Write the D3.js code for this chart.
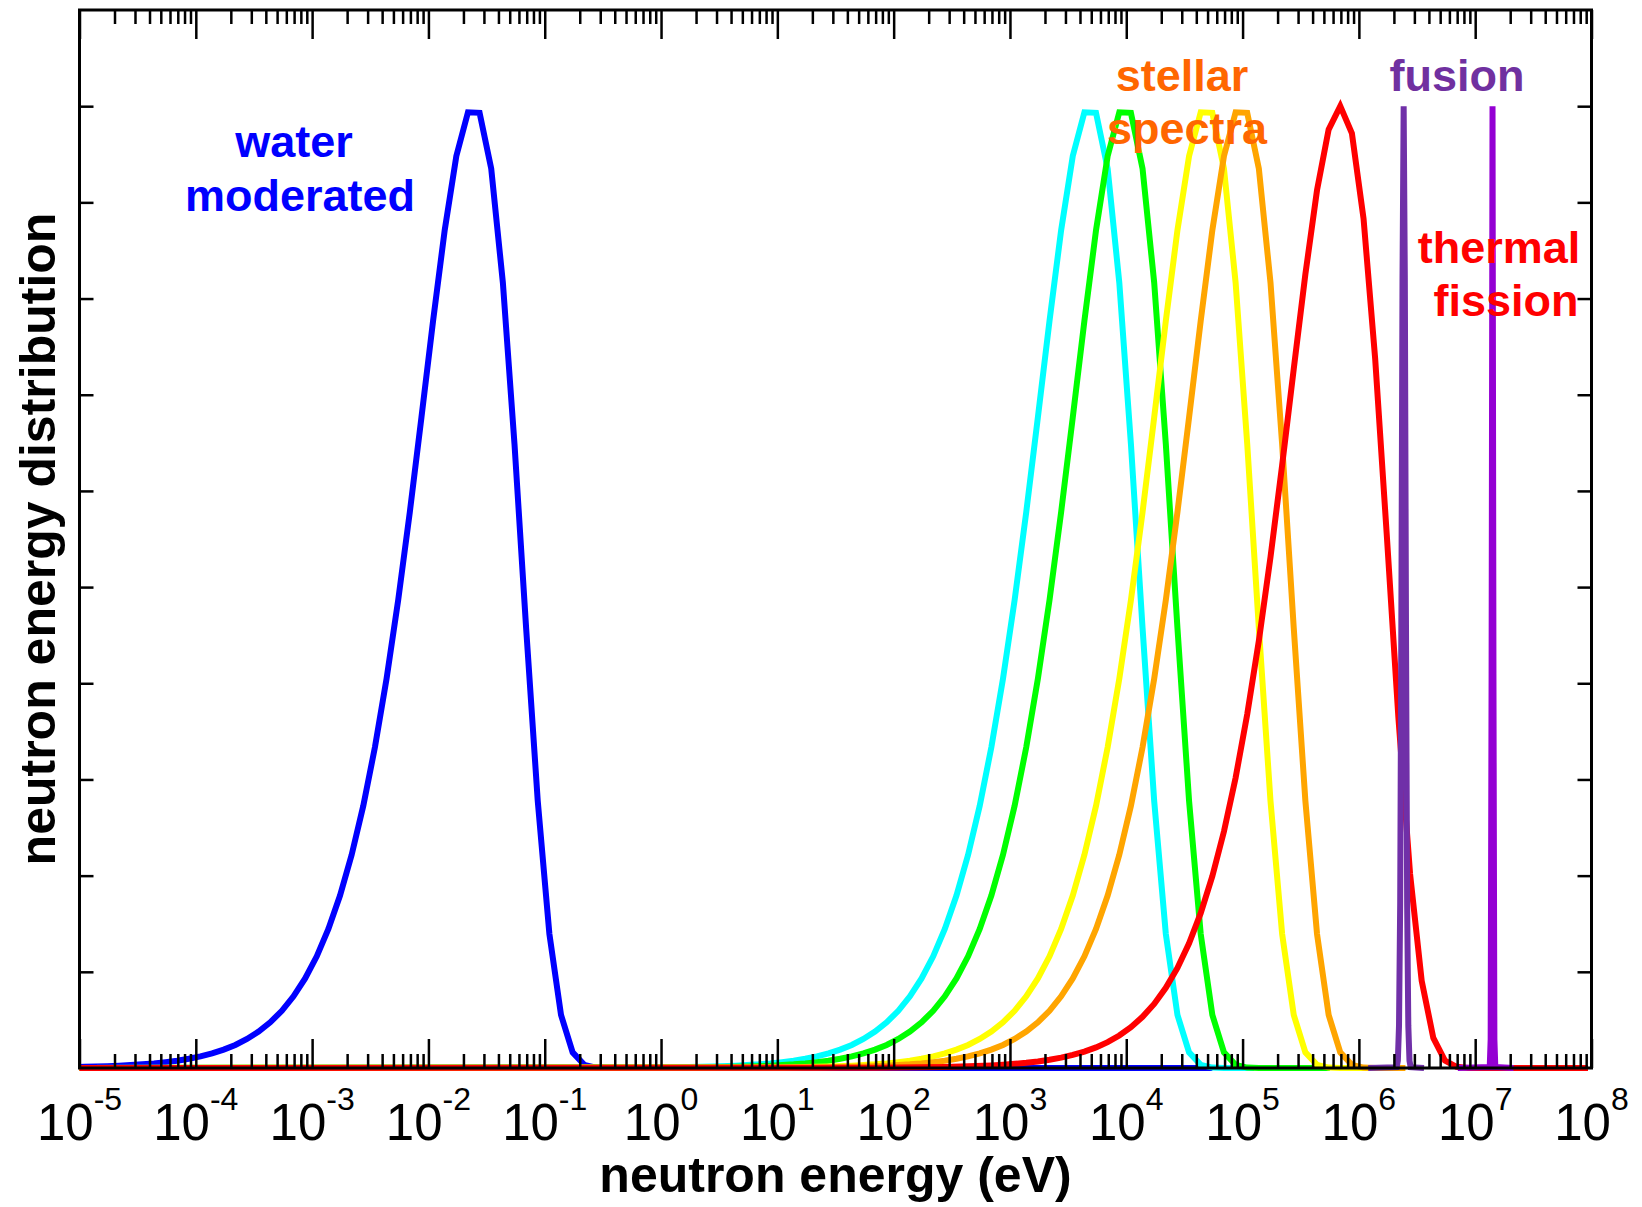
<!DOCTYPE html>
<html>
<head>
<meta charset="utf-8">
<script src="https://cdn.jsdelivr.net/npm/d3@7"></script>
<style>
  body { margin: 0; background: #fff; }
  svg { display: block; }
  text { font-family: "Liberation Sans", Arial, Helvetica, sans-serif; }
</style>
</head>
<body>
<svg id="chart" width="1642" height="1207"></svg>
<script>
// data: [log10(E / eV), distribution]
const waterModerated = [
  [-5, 0.0011], [-4.96, 0.0012], [-4.86, 0.0015], [-4.76, 0.0019], [-4.66, 0.0024], [-4.56, 0.0030],
  [-4.46, 0.0038], [-4.36, 0.0048], [-4.26, 0.0061], [-4.16, 0.0076], [-4.06, 0.0096], [-3.96, 0.0121],
  [-3.86, 0.0152], [-3.76, 0.0191], [-3.66, 0.0240], [-3.56, 0.0302], [-3.46, 0.0379], [-3.36, 0.0475],
  [-3.26, 0.0595], [-3.16, 0.0745], [-3.06, 0.0931], [-2.96, 0.1161], [-2.86, 0.1445], [-2.76, 0.1793],
  [-2.66, 0.2216], [-2.56, 0.2726], [-2.46, 0.3334], [-2.36, 0.4046], [-2.26, 0.4865], [-2.16, 0.5780],
  [-2.06, 0.6764], [-1.96, 0.7768], [-1.86, 0.8711], [-1.76, 0.9481], [-1.66, 0.9936], [-1.56, 0.9931],
  [-1.46, 0.9351], [-1.36, 0.8166], [-1.26, 0.6487], [-1.16, 0.4574], [-1.06, 0.2776], [-0.96, 0.1395],
  [-0.86, 0.0552], [-0.76, 0.0162], [-0.66, 0.0033], [-0.56, 0.0004], [-0.46, 0], [4.74, 0]
]

const stellarCyan = [
  [-5, 0], [0.04, 0.0006], [0.24, 0.0010], [0.44, 0.0015], [0.64, 0.0024], [0.84, 0.0038], [0.94, 0.0048],
  [1.04, 0.0061], [1.14, 0.0076], [1.24, 0.0096], [1.34, 0.0121], [1.44, 0.0152], [1.54, 0.0191],
  [1.64, 0.0240], [1.74, 0.0302], [1.84, 0.0379], [1.94, 0.0475], [2.04, 0.0595], [2.14, 0.0745],
  [2.24, 0.0931], [2.34, 0.1161], [2.44, 0.1445], [2.54, 0.1793], [2.64, 0.2216], [2.74, 0.2726],
  [2.84, 0.3334], [2.94, 0.4046], [3.04, 0.4865], [3.14, 0.5780], [3.24, 0.6764], [3.34, 0.7768],
  [3.44, 0.8711], [3.54, 0.9481], [3.64, 0.9936], [3.74, 0.9931], [3.84, 0.9351], [3.94, 0.8166],
  [4.04, 0.6487], [4.14, 0.4574], [4.24, 0.2776], [4.34, 0.1395], [4.44, 0.0552], [4.54, 0.0162],
  [4.64, 0.0033], [4.74, 0.0004], [4.84, 0], [5.1, 0]
]

const stellarGreen = [
  [-5, 0], [0.34, 0.0006], [0.54, 0.0010], [0.74, 0.0015], [0.94, 0.0024], [1.14, 0.0038], [1.24, 0.0048],
  [1.34, 0.0061], [1.44, 0.0076], [1.54, 0.0096], [1.64, 0.0121], [1.74, 0.0152], [1.84, 0.0191],
  [1.94, 0.0240], [2.04, 0.0302], [2.14, 0.0379], [2.24, 0.0475], [2.34, 0.0595], [2.44, 0.0745],
  [2.54, 0.0931], [2.64, 0.1161], [2.74, 0.1445], [2.84, 0.1793], [2.94, 0.2216], [3.04, 0.2726],
  [3.14, 0.3334], [3.24, 0.4046], [3.34, 0.4865], [3.44, 0.5780], [3.54, 0.6764], [3.64, 0.7768],
  [3.74, 0.8711], [3.84, 0.9481], [3.94, 0.9936], [4.04, 0.9931], [4.14, 0.9351], [4.24, 0.8166],
  [4.34, 0.6487], [4.44, 0.4574], [4.54, 0.2776], [4.64, 0.1395], [4.74, 0.0552], [4.84, 0.0162],
  [4.94, 0.0033], [5.04, 0.0004], [5.14, 0], [5.75, 0]
]

const stellarYellow = [
  [-5, 0], [1.04, 0.0006], [1.24, 0.0010], [1.44, 0.0015], [1.64, 0.0024], [1.84, 0.0038], [1.94, 0.0048],
  [2.04, 0.0061], [2.14, 0.0076], [2.24, 0.0096], [2.34, 0.0121], [2.44, 0.0152], [2.54, 0.0191],
  [2.64, 0.0240], [2.74, 0.0302], [2.84, 0.0379], [2.94, 0.0475], [3.04, 0.0595], [3.14, 0.0745],
  [3.24, 0.0931], [3.34, 0.1161], [3.44, 0.1445], [3.54, 0.1793], [3.64, 0.2216], [3.74, 0.2726],
  [3.84, 0.3334], [3.94, 0.4046], [4.04, 0.4865], [4.14, 0.5780], [4.24, 0.6764], [4.34, 0.7768],
  [4.44, 0.8711], [4.54, 0.9481], [4.64, 0.9936], [4.74, 0.9931], [4.84, 0.9351], [4.94, 0.8166],
  [5.04, 0.6487], [5.14, 0.4574], [5.24, 0.2776], [5.34, 0.1395], [5.44, 0.0552], [5.54, 0.0162],
  [5.64, 0.0033], [5.74, 0.0004], [5.84, 0], [6.1, 0]
]

const stellarOrange = [
  [-5, 0], [1.34, 0.0006], [1.54, 0.0010], [1.74, 0.0015], [1.94, 0.0024], [2.14, 0.0038], [2.24, 0.0048],
  [2.34, 0.0061], [2.44, 0.0076], [2.54, 0.0096], [2.64, 0.0121], [2.74, 0.0152], [2.84, 0.0191],
  [2.94, 0.0240], [3.04, 0.0302], [3.14, 0.0379], [3.24, 0.0475], [3.34, 0.0595], [3.44, 0.0745],
  [3.54, 0.0931], [3.64, 0.1161], [3.74, 0.1445], [3.84, 0.1793], [3.94, 0.2216], [4.04, 0.2726],
  [4.14, 0.3334], [4.24, 0.4046], [4.34, 0.4865], [4.44, 0.5780], [4.54, 0.6764], [4.64, 0.7768],
  [4.74, 0.8711], [4.84, 0.9481], [4.94, 0.9936], [5.04, 0.9931], [5.14, 0.9351], [5.24, 0.8166],
  [5.34, 0.6487], [5.44, 0.4574], [5.54, 0.2776], [5.64, 0.1395], [5.74, 0.0552], [5.84, 0.0162],
  [5.94, 0.0033], [6.04, 0.0004], [6.14, 0], [6.4, 0]
]

const thermalFission = [
  [-5, 0], [1.84, 0.0003], [2.04, 0.0004], [2.24, 0.0007], [2.44, 0.0011], [2.64, 0.0017], [2.84, 0.0027],
  [2.94, 0.0034], [3.04, 0.0043], [3.14, 0.0054], [3.24, 0.0068], [3.34, 0.0086], [3.44, 0.0108],
  [3.54, 0.0136], [3.64, 0.0171], [3.74, 0.0214], [3.84, 0.0269], [3.94, 0.0338], [4.04, 0.0424],
  [4.14, 0.0532], [4.24, 0.0666], [4.34, 0.0833], [4.44, 0.1040], [4.54, 0.1296], [4.64, 0.1610],
  [4.74, 0.1994], [4.84, 0.2460], [4.94, 0.3017], [5.04, 0.3677], [5.14, 0.4443], [5.24, 0.5311],
  [5.34, 0.6266], [5.44, 0.7268], [5.54, 0.8253], [5.64, 0.9126], [5.74, 0.9757], [5.84, 1.0],
  [5.94, 0.9717], [6.04, 0.8831], [6.14, 0.7375], [6.24, 0.5538], [6.34, 0.3639], [6.44, 0.2020],
  [6.54, 0.0907], [6.64, 0.0312], [6.74, 0.0077], [6.84, 0.0012], [6.94, 0.0001], [7.97, 0]
]

const fusionDD = [
  [6.08, 0], [6.325, 0.0009], [6.335, 0.0076], [6.345, 0.044], [6.355, 0.17], [6.365, 0.46], [6.375, 0.82],
  [6.385, 1.0], [6.395, 0.82], [6.405, 0.46], [6.415, 0.17], [6.425, 0.044], [6.435, 0.0076],
  [6.445, 0.0009], [6.56, 0]
]

const fusionDT = [
  [6.85, 0], [7.125, 0.001], [7.133, 0.03], [7.141, 0.41], [7.149, 1.0], [7.157, 0.41], [7.165, 0.03],
  [7.173, 0.001], [7.33, 0]
]

const decades = [-5, -4, -3, -2, -1, 0, 1, 2, 3, 4, 5, 6, 7, 8]
const yTicks = [0.1, 0.2, 0.3, 0.4, 0.5, 0.6, 0.7, 0.8, 0.9, 1.0]

const series = [
  { data: waterModerated, color: '#0000ff' },
  { data: stellarCyan, color: '#00ffff' },
  { data: stellarGreen, color: '#00ff00' },
  { data: stellarYellow, color: '#ffff00' },
  { data: stellarOrange, color: '#ffa500' },
  { data: thermalFission, color: '#ff0000' },
  { data: fusionDD, color: '#7030a8' },
  { data: fusionDT, color: '#9400d3' }
]

const labels = [
  { text: 'water', color: '#0000ff', x: 294, y: 157 },
  { text: 'moderated', color: '#0000ff', x: 300, y: 211 },
  { text: 'stellar', color: '#ff6600', x: 1182, y: 91 },
  { text: 'spectra', color: '#ff6600', x: 1187, y: 144 },
  { text: 'fusion', color: '#7030a0', x: 1457, y: 91 },
  { text: 'thermal', color: '#ff0000', x: 1499, y: 263 },
  { text: 'fission', color: '#ff0000', x: 1506, y: 316 }
]

const W = 1642, H = 1207
const plotLeft = 79.5, plotRight = 1591.5, plotTop = 10, plotBottom = 1068

const svg = d3.select('#chart')
svg.append('rect').attr('width', W).attr('height', H).attr('fill', '#fff')

const x = d3.scaleLog().domain([1e-5, 1e8]).range([plotLeft, plotRight])
const y = d3.scaleLinear().domain([0, 1.1]).range([plotBottom, plotTop])

const line = d3.line()
  .x(d => x(Math.pow(10, d[0])))
  .y(d => y(d[1]))

// curves
svg.append('g')
  .selectAll('path')
  .data(series)
  .join('path')
  .attr('d', d => line(d.data))
  .attr('fill', 'none')
  .attr('stroke', d => d.color)
  .attr('stroke-width', 6)
  .attr('stroke-linejoin', 'miter')

// ticks, all pointing inward
const allTicks = x.ticks(20)
const major = allTicks.filter(v => Math.abs(Math.log10(v) - Math.round(Math.log10(v))) < 1e-9)
const minor = allTicks.filter(v => !major.includes(v))

function styleAxis(g) {
  g.select('.domain').remove()
  g.selectAll('line').attr('stroke', '#000').attr('stroke-width', 2.5)
}

svg.append('g').attr('transform', `translate(0,${plotBottom})`)
  .call(d3.axisBottom(x).tickValues(minor).tickSize(-14).tickFormat('')).call(styleAxis)
svg.append('g').attr('transform', `translate(0,${plotBottom})`)
  .call(d3.axisBottom(x).tickValues(major).tickSize(-29).tickFormat('')).call(styleAxis)
svg.append('g').attr('transform', `translate(0,${plotTop})`)
  .call(d3.axisTop(x).tickValues(minor).tickSize(-14).tickFormat('')).call(styleAxis)
svg.append('g').attr('transform', `translate(0,${plotTop})`)
  .call(d3.axisTop(x).tickValues(major).tickSize(-29).tickFormat('')).call(styleAxis)
svg.append('g').attr('transform', `translate(${plotLeft},0)`)
  .call(d3.axisLeft(y).tickValues(yTicks).tickSize(-14).tickFormat('')).call(styleAxis)
svg.append('g').attr('transform', `translate(${plotRight},0)`)
  .call(d3.axisRight(y).tickValues(yTicks).tickSize(-14).tickFormat('')).call(styleAxis)

// frame
svg.append('rect')
  .attr('x', plotLeft).attr('y', plotTop)
  .attr('width', plotRight - plotLeft).attr('height', plotBottom - plotTop)
  .attr('fill', 'none').attr('stroke', '#000').attr('stroke-width', 3)

// decade labels 10^k
const tickLabels = svg.append('g')
  .selectAll('text')
  .data(decades)
  .join('text')
  .attr('x', d => x(Math.pow(10, d)))
  .attr('y', 1140)
  .attr('text-anchor', 'middle')
  .attr('font-size', 51)
  .attr('fill', '#000')
tickLabels.append('tspan').text('10')
tickLabels.append('tspan').attr('dy', -30).attr('font-size', 32).text(d => d)

// axis titles
svg.append('text')
  .attr('x', (plotLeft + plotRight) / 2).attr('y', 1192)
  .attr('text-anchor', 'middle')
  .attr('font-size', 50).attr('font-weight', 'bold')
  .text('neutron energy (eV)')

svg.append('text')
  .attr('transform', `translate(55,${(plotTop + plotBottom) / 2}) rotate(-90)`)
  .attr('text-anchor', 'middle')
  .attr('font-size', 50).attr('font-weight', 'bold')
  .text('neutron energy distribution')

// curve annotations
svg.append('g')
  .selectAll('text')
  .data(labels)
  .join('text')
  .attr('x', d => d.x).attr('y', d => d.y)
  .attr('text-anchor', 'middle')
  .attr('font-size', 45).attr('font-weight', 'bold')
  .attr('fill', d => d.color)
  .text(d => d.text)
</script>
</body>
</html>
